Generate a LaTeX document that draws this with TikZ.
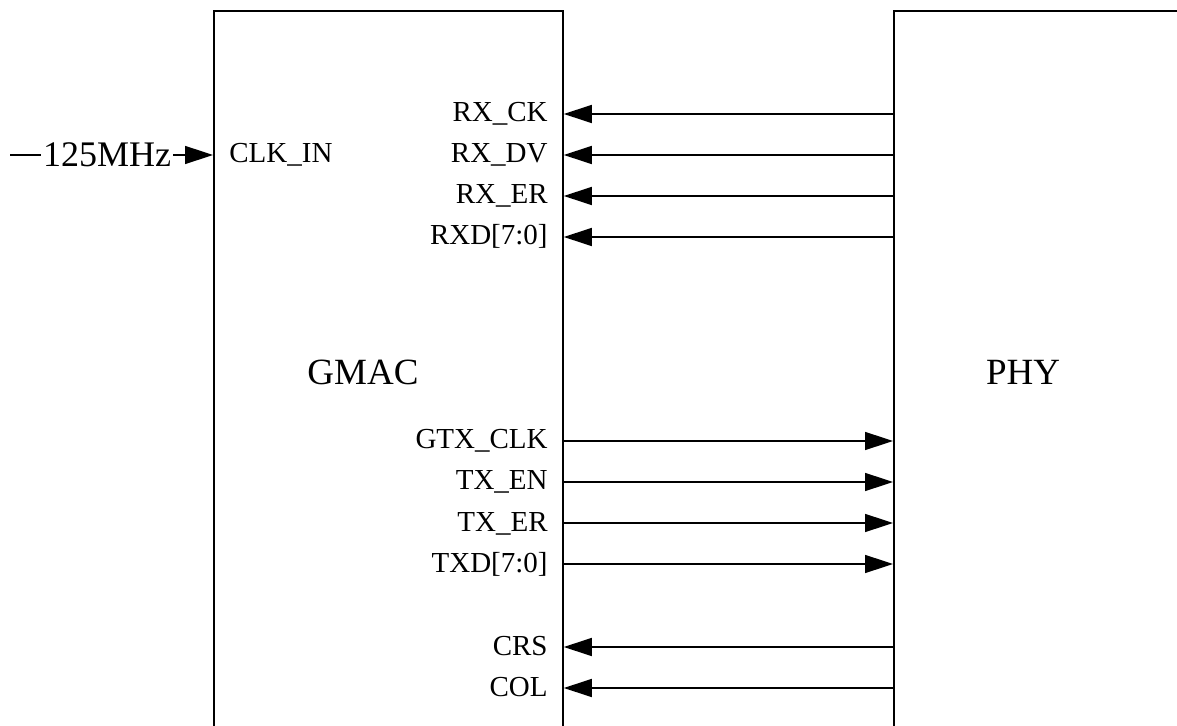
\documentclass[tikz,border=0pt]{standalone}
\usepackage{fontspec}
\setmainfont{Liberation Serif}
\usetikzlibrary{arrows.meta}

\begin{document}
\begin{tikzpicture}[x=0.5pt,y=-0.5pt]
	\useasboundingbox (0,0) rectangle (1177,726);
	\tikzset{sig/.style={-{Triangle[length=14pt, width=9pt]}, line width=0.75pt},
	         blk/.style={draw, line width=0.9pt, anchor=north west, inner sep=0pt},
	         pin/.style={anchor=base east, inner sep=0pt, font=\fontsize{14.5}{16}\selectfont},
	         title/.style={inner sep=0pt, font=\fontsize{18.5}{20}\selectfont}}
	% the two blocks (bottom of GMAC and right of PHY run off the page)
	\node[blk, minimum width=174.5pt, minimum height=400pt] (gmac) at (213,10) {};
	\node[blk, minimum width=200pt, minimum height=400pt] (phy) at (893,10) {};
	\node[title] (gmactxt) at (363,372) {GMAC};
	\node[title] (phytxt) at (1023,372) {PHY};
	
	% clock in
	\coordinate (clksrc) at (10,155);
	\node[inner sep=1pt, font=\fontsize{18}{20}\selectfont] (mhz) at (107,155) {125MHz};
	\node[anchor=base west, inner sep=0pt, font=\fontsize{14.5}{16}\selectfont] (clkin) at (229,163) {CLK\_IN};
	\draw[line width=0.75pt] (clksrc) -- (mhz.west);
	\draw[sig] (mhz.east) -- (gmac.west |- mhz.east);
	
	% receive side
	\node[pin] (rxck) at (548,122) {RX\_CK};
	\node[pin] (rxdv) at (548,163) {RX\_DV};
	\node[pin] (rxer) at (548,204) {RX\_ER};
	\node[pin] (rxd) at (548,245) {RXD[7:0]};
	\draw[sig] (phy.west |- 0,114) -- (gmac.east |- 0,114);
	\draw[sig] (phy.west |- 0,155) -- (gmac.east |- 0,155);
	\draw[sig] (phy.west |- 0,196) -- (gmac.east |- 0,196);
	\draw[sig] (phy.west |- 0,237) -- (gmac.east |- 0,237);
	
	% transmit side
	\node[pin] (gtxclk) at (548,449) {GTX\_CLK};
	\node[pin] (txen) at (548,490) {TX\_EN};
	\node[pin] (txer) at (548,531) {TX\_ER};
	\node[pin] (txd) at (548,572) {TXD[7:0]};
	\draw[sig] (gmac.east |- 0,441) -- (phy.west |- 0,441);
	\draw[sig] (gmac.east |- 0,482) -- (phy.west |- 0,482);
	\draw[sig] (gmac.east |- 0,523) -- (phy.west |- 0,523);
	\draw[sig] (gmac.east |- 0,564) -- (phy.west |- 0,564);
	
	% carrier sense / collision
	\node[pin] (crs) at (548,655) {CRS};
	\node[pin] (col) at (548,696) {COL};
	\draw[sig] (phy.west |- 0,647) -- (gmac.east |- 0,647);
	\draw[sig] (phy.west |- 0,688) -- (gmac.east |- 0,688);
\end{tikzpicture}
\end{document}
